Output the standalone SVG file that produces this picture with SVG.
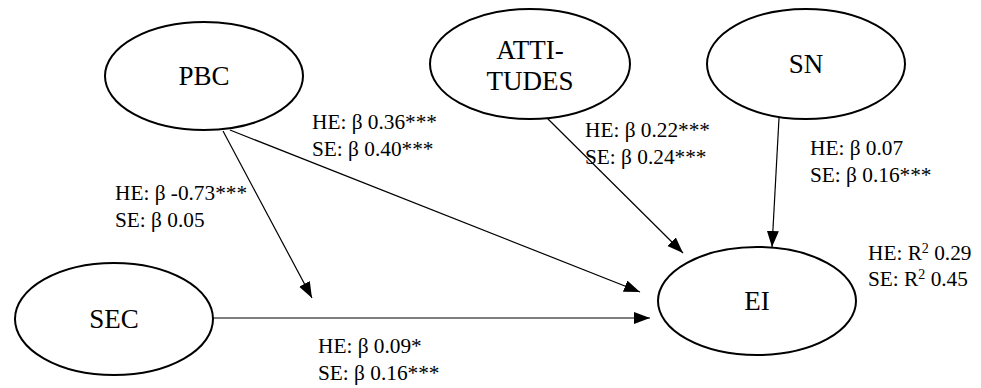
<svg xmlns="http://www.w3.org/2000/svg" width="981" height="388" viewBox="0 0 981 388">
<defs>
<marker id="arr" markerUnits="userSpaceOnUse" markerWidth="17" markerHeight="13" refX="16" refY="6" orient="auto">
<path d="M0,0 L16,6 L0,12 z" fill="#000"/>
</marker>
<style>
.node ellipse{fill:#fff;stroke:#000;stroke-width:2}
.conn line{stroke:#000;stroke-width:1.2;marker-end:url(#arr)}
</style>
</defs>
<rect width="981" height="388" fill="#fff"/>
<g id="connectors" class="conn">
<line x1="223" y1="131" x2="312" y2="298"/>
<line x1="230" y1="130" x2="640" y2="292"/>
<line x1="213" y1="318" x2="650" y2="318"/>
<line x1="546" y1="117" x2="683" y2="253"/>
<line x1="779" y1="118" x2="772" y2="247"/>
</g>
<g id="PBC" class="node"><ellipse cx="204" cy="76" rx="99" ry="54"/><text x="204" y="85" font-family="Liberation Serif" font-size="27" text-anchor="middle">PBC</text></g>
<g id="ATTITUDES" class="node"><ellipse cx="530" cy="64" rx="100" ry="55"/><text x="530" y="59" font-family="Liberation Serif" font-size="27" text-anchor="middle">ATTI-</text><text x="530" y="90" font-family="Liberation Serif" font-size="27" text-anchor="middle">TUDES</text></g>
<g id="SN" class="node"><ellipse cx="806" cy="64" rx="99" ry="55"/><text x="806" y="73" font-family="Liberation Serif" font-size="27" text-anchor="middle">SN</text></g>
<g id="SEC" class="node"><ellipse cx="114" cy="319" rx="99" ry="56"/><text x="114" y="328" font-family="Liberation Serif" font-size="27" text-anchor="middle">SEC</text></g>
<g id="EI" class="node"><ellipse cx="757" cy="301" rx="99" ry="54"/><text x="757" y="310" font-family="Liberation Serif" font-size="27" text-anchor="middle">EI</text></g>
<g id="labels">
<text x="312" y="129" font-family="Liberation Serif" font-size="21.3">HE: β 0.36***</text>
<text x="312" y="156" font-family="Liberation Serif" font-size="21.3">SE: β 0.40***</text>
<text x="115" y="200" font-family="Liberation Serif" font-size="21.3">HE: β -0.73***</text>
<text x="115" y="227" font-family="Liberation Serif" font-size="21.3">SE: β 0.05</text>
<text x="585" y="137" font-family="Liberation Serif" font-size="21.3">HE: β 0.22***</text>
<text x="585" y="164" font-family="Liberation Serif" font-size="21.3">SE: β 0.24***</text>
<text x="810" y="155" font-family="Liberation Serif" font-size="21.3">HE: β 0.07</text>
<text x="810" y="182" font-family="Liberation Serif" font-size="21.3">SE: β 0.16***</text>
<text x="868" y="260" font-family="Liberation Serif" font-size="21.3">HE: R<tspan font-size="14" dy="-7">2</tspan><tspan dy="7"> 0.29</tspan></text>
<text x="868" y="286" font-family="Liberation Serif" font-size="21.3">SE: R<tspan font-size="14" dy="-7">2</tspan><tspan dy="7"> 0.45</tspan></text>
<text x="318" y="353" font-family="Liberation Serif" font-size="21.3">HE: β 0.09*</text>
<text x="318" y="380" font-family="Liberation Serif" font-size="21.3">SE: β 0.16***</text>
</g>
</svg>
